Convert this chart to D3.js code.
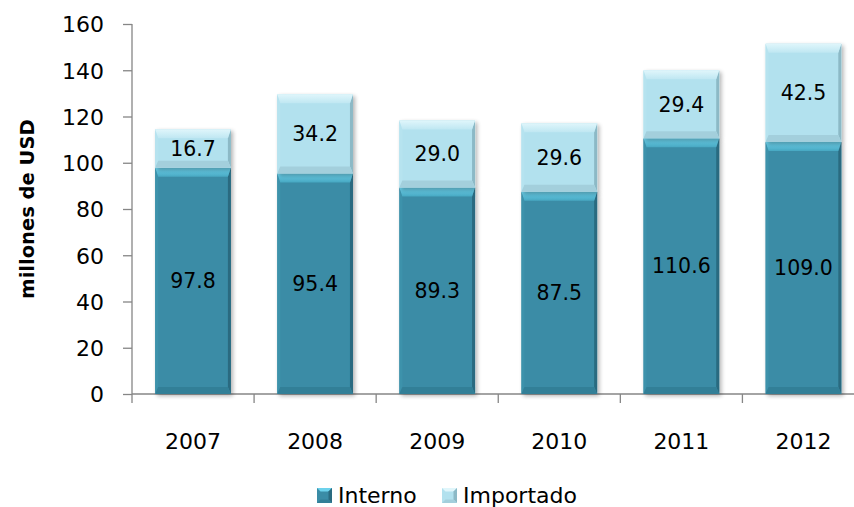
<!DOCTYPE html>
<html><head><meta charset="utf-8">
<script src="https://cdn.jsdelivr.net/npm/d3@7"></script>
<style>body{margin:0;background:#fff}svg{display:block}text{font-family:"DejaVu Sans",sans-serif;fill:#000}</style>
</head><body>
<svg id="c" width="854" height="507"></svg>
<script>
const years = ["2007","2008","2009","2010","2011","2012"];
const interno = [97.8, 95.4, 89.3, 87.5, 110.6, 109.0];
const importado = [16.7, 34.2, 29.0, 29.6, 29.4, 42.5];
const seriesNames = ["Interno", "Importado"];
const yTicks = [0, 20, 40, 60, 80, 100, 120, 140, 160];

const svg = d3.select("#c");
const x = d3.scaleBand().domain(years).range([132, 864.5]).paddingInner(0.38).paddingOuter(0.19);
const y = d3.scaleLinear().domain([0, 160]).range([394, 24]);

const styles = [
  {main:"#3a8ca6", top1:"#6dd2ec", top2:"#48a8c2", left:"#3d92ab", right:"#2a6b80", bottom:"#337f97"},
  {main:"#b2e1ee", top1:"#e0f6fb", top2:"#bfe7f2", left:"#b6e3ef", right:"#8cb9c6", bottom:"#a3cfdc"}
];

const defs = svg.append("defs");
const f = defs.append("filter").attr("id","sh").attr("x","-20%").attr("y","-20%").attr("width","150%").attr("height","150%");
f.append("feGaussianBlur").attr("in","SourceAlpha").attr("stdDeviation",2);
f.append("feOffset").attr("dx",2).attr("dy",2).attr("result","o");
f.append("feComponentTransfer").append("feFuncA").attr("type","linear").attr("slope",0.3);
const m = f.append("feMerge"); m.append("feMergeNode"); m.append("feMergeNode").attr("in","SourceGraphic");
styles.forEach((st,i)=>{
  const g = defs.append("linearGradient").attr("id","tg"+i).attr("x1",0).attr("y1",0).attr("x2",0).attr("y2",1);
  g.append("stop").attr("offset",0).attr("stop-color",st.top1);
  g.append("stop").attr("offset",1).attr("stop-color",st.top2);
});

// axes
const yAxis = d3.axisLeft(y).tickValues(yTicks).tickSize(9).tickPadding(19);
const gy = svg.append("g").attr("transform","translate(132,0)").call(yAxis);
gy.selectAll("text").style("font-size","22px").attr("dy","0.36em");
gy.selectAll("line,path").attr("stroke","#868686").attr("stroke-width",1.3);
gy.select("path").attr("d","M0,24V394");

const bounds = years.map((d,i)=> x(d) - x.step()*x.paddingInner()/2);
const gx = svg.append("g");
gx.append("line").attr("x1",132).attr("x2",865).attr("y1",394).attr("y2",394).attr("stroke","#868686").attr("stroke-width",1.3);
gx.selectAll("line.t").data(bounds).join("line").attr("class","t")
  .attr("x1",d=>d).attr("x2",d=>d).attr("y1",394).attr("y2",403).attr("stroke","#868686").attr("stroke-width",1.3);
gx.selectAll("text").data(years).join("text")
  .attr("x",d=>x(d)+x.bandwidth()/2).attr("y",449).attr("text-anchor","middle").style("font-size","22px").text(d=>d);

// bars
function bevelBar(g, x0, y0, w, h, st, i){
  const bt = Math.min(9, h/3), bs = 3, bb = Math.min(7, h/3);
  const gg = g.append("g").attr("filter","url(#sh)");
  gg.append("rect").attr("x",x0).attr("y",y0).attr("width",w).attr("height",h).attr("fill",st.main);
  const P = (pts, c)=> gg.append("polygon").attr("points",pts.map(p=>p.join(",")).join(" ")).attr("fill",c);
  P([[x0,y0],[x0+bs,y0+bt],[x0+bs,y0+h-bb],[x0,y0+h]], st.left);
  P([[x0+w,y0],[x0+w,y0+h],[x0+w-bs,y0+h-bb],[x0+w-bs,y0+bt]], st.right);
  P([[x0,y0+h],[x0+bs,y0+h-bb],[x0+w-bs,y0+h-bb],[x0+w,y0+h]], st.bottom);
  P([[x0,y0],[x0+w,y0],[x0+w-bs,y0+bt],[x0+bs,y0+bt]], "url(#tg"+i+")");
}
const gb = svg.append("g");
years.forEach((yr,i)=>{
  const x0 = x(yr), w = x.bandwidth();
  bevelBar(gb, x0, y(interno[i]), w, y(0)-y(interno[i]), styles[0], 0);
  const top = interno[i]+importado[i];
  bevelBar(gb, x0, y(top), w, y(interno[i])-y(top), styles[1], 1);
});
const gl = svg.append("g");
years.forEach((yr,i)=>{
  const cx = x(yr)+x.bandwidth()/2;
  gl.append("text").attr("x",cx).attr("y",y(interno[i]/2)).attr("dy","0.36em").attr("text-anchor","middle").style("font-size","20.5px").text(interno[i].toFixed(1));
  gl.append("text").attr("x",cx).attr("y",y(interno[i]+importado[i]/2)).attr("dy","0.36em").attr("text-anchor","middle").style("font-size","20.5px").text(importado[i].toFixed(1));
});

// y title
svg.append("text").attr("transform","translate(34,209) rotate(-90)").attr("text-anchor","middle")
  .style("font-size","19.5px").style("font-weight","bold").text("millones de USD");

// legend
const legX = [317, 442];
seriesNames.forEach((n,i)=>{
  const st = styles[i];
  const g = svg.append("g");
  const s = 15, lx = legX[i], ly = 488, b = 3.5;
  g.append("rect").attr("x",lx).attr("y",ly).attr("width",s).attr("height",s).attr("fill",st.main);
  const P = (pts, c)=> g.append("polygon").attr("points",pts.map(p=>p.join(",")).join(" ")).attr("fill",c);
  P([[lx,ly],[lx+s,ly],[lx+s-b,ly+b],[lx+b,ly+b]], st.top1);
  P([[lx+s,ly],[lx+s,ly+s],[lx+s-b,ly+s-b],[lx+s-b,ly+b]], st.right);
  P([[lx,ly+s],[lx+b,ly+s-b],[lx+s-b,ly+s-b],[lx+s,ly+s]], st.bottom);
  g.append("text").attr("x",lx+s+6).attr("y",503).style("font-size","22px").text(n);
});
</script>
</body></html>
